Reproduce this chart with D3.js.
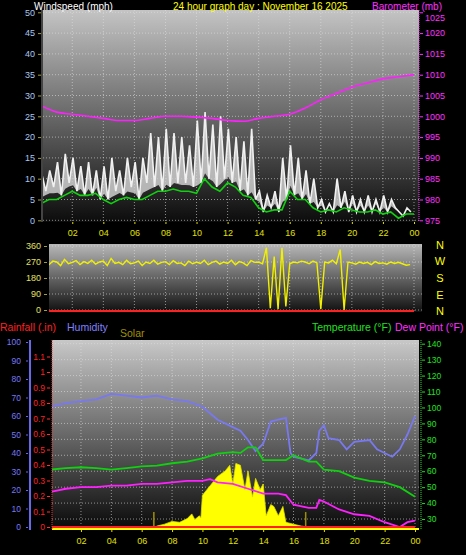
<!DOCTYPE html>
<html><head><meta charset="utf-8">
<script src="https://cdn.jsdelivr.net/npm/d3@7"></script>
<style>body{margin:0;background:#000}svg{display:block}text{font-family:"Liberation Sans",Arial,sans-serif}</style>
</head><body><svg id="c" width="466" height="555"></svg>
<script>
const hourTicks=[2,4,6,8,10,12,14,16,18,20,22,24];
const gust=[11,7,12,8,14,6,16,9,15,7,13,6,14,6,12,5,13,5,15,7,12,6,15,8,14,5,15,9,21,8,20,7,22,8,21,9,20,9,18,8,24,9,26,10,23,8,25,10,22,9,20,7,19,6,22,5,7,2,6,3,7,2,15,5,18,6,15,5,12,4,10,3,5,2,4,2,10,3,7,2,6,2,5,2,6,2,5,2,6,2,5,3,2,1,3,2];
const avgWind=[4,5,5,6,7,6,6,6.5,5,4,5,5.5,5,5,6,7,7,7.5,7,7,6.5,10,8,7,9,8,6,5.5,3,2,2.5,2.5,7,5,5,3,2,2.5,2,3,2.5,2,2,2.5,1.5,2,0.5,1.5,1.5];
const baro=[1002.5,1001,1000.5,1000,999.5,999,999,999.5,1000,1000,999.8,999.5,999,998.8,999.5,1000,1000.5,1002,1004,1005.5,1007,1008,1009,1009.5,1010];
const windDir=[265,280,255,275,270,250,285,260,268,278,255,272,262,280,258,270,275,250,290,262,268,255,280,260,265,275,250,270,262,280,258,268,272,255,278,262,265,250,275,260,270,262,280,255,268,275,258,270,262,280,255,272,265,250,278,268,270,260,350,10,300,5,350,20,260,270,265,275,270,260,275,265,5,270,265,280,260,340,0,270,265,258,270,262,268,255,272,262,265,258,270,262,268,260,252,255];
const humHours=[0,1,2,3,4,5,6,7,8,9,10,11,12,12.5,13,13.5,14,14.5,15,15.5,15.8,16,17,17.5,17.7,18,18.3,19,19.5,20,21,21.5,22,22.5,23,23.5,24];
const humidity=[65,67,68,69,72,71,70,71,69,68,65,58,54,52,47,41,45,57,58,59,40,38,36,40,52,55,48,47,42,46,47,42,40,38,42,50,60];
const tempHours=[0,1,2,3,4,5,6,7,8,9,10,11,12,12.5,13,13.5,14,15,15.5,16,17,17.5,18,19,20,21,22,23,24];
const temperature=[61,62,62.5,62,61,62,63,63.5,65,66,68,71,72,71.5,75,75,67,67,67,70,66,66,61,60,56,54,53,50,44];
const dewHours=[0,1,2,3,4,5,6,7,8,9,10,10.5,11,12,13,14,15,15.5,16,17,17.5,17.7,18,19,20,21,22,23,23.5,24];
const dewPoint=[47,49,50,50,51,51,52,52,53,54,54,55,53,52,49,46,46,45,39,37,37,42,41,36,33,32,28,25,28,29];
const solarHours=[6.9,7,7.5,8,8.5,9,9.3,9.5,9.8,9.9,10,10.5,11,11.5,11.8,12,12.2,12.5,12.8,13,13.3,13.5,13.8,14,14.2,14.5,14.7,15,15.3,15.5,16,16.5,17];
const solar=[0,5,15,30,25,45,70,40,60,50,170,220,270,300,330,230,340,330,200,300,160,260,200,230,60,120,110,60,110,25,15,5,0];
const rain=[0,0];

const svg=d3.select("#c");
const defs=svg.append("defs");
function grad(id,c1,c2){const g=defs.append("linearGradient").attr("id",id).attr("x1",0).attr("x2",0).attr("y1",0).attr("y2",1);
g.append("stop").attr("offset","0%").attr("stop-color",c1);g.append("stop").attr("offset","100%").attr("stop-color",c2);}
grad("g1","#c4c4c4","#0c0c0c");grad("g2","#b8b8b8","#101010");grad("g3","#c8c8c8","#080808");

function panel(x0,x1,y0,y1,gid,xs,ys,yt){
  svg.append("rect").attr("x",x0).attr("y",y0).attr("width",x1-x0).attr("height",y1-y0).attr("fill",`url(#${gid})`);
  const g=svg.append("g");
  hourTicks.forEach(h=>g.append("line").attr("x1",xs(h)).attr("x2",xs(h)).attr("y1",y0).attr("y2",y1));
  yt.forEach(v=>g.append("line").attr("x1",x0).attr("x2",x1).attr("y1",ys(v)).attr("y2",ys(v)));
  g.selectAll("line").attr("stroke","#e0e0e0").attr("stroke-opacity",0.6).attr("stroke-dasharray","1,2");
}
function txt(x,y,s,c,size,anchor){svg.append("text").attr("x",x).attr("y",y).attr("fill",c).attr("font-size",size||11).attr("text-anchor",anchor||"start").text(s);}
const fmtH=h=>String(h%24).padStart(2,"0");

// ---------- top panel
const xT=d3.scaleLinear().domain([0,24]).range([41.2,414]);
const yW=d3.scaleLinear().domain([0,50]).range([220.3,12.3]);
const yB=d3.scaleLinear().domain([975,1025]).range([220.3,12.3]);
panel(43,419,10,222,"g1",xT,yW,d3.range(0,51,5));
svg.append("defs").append("clipPath").attr("id","cT").append("rect").attr("x",43).attr("y",10).attr("width",376).attr("height",212);
const cT=svg.append("g").attr("clip-path","url(#cT)");
const avgAt=t=>{const i=Math.min(Math.floor(t*2),avgWind.length-2),f=t*2-i;return avgWind[i]*(1-f)+avgWind[i+1]*f;};
cT.append("path").datum(gust).attr("fill","#cfcfcf").attr("fill-opacity",0.85)
 .attr("d",d3.area().x((d,i)=>xT(i/4+0.05)).y0((d,i)=>yW(Math.min(d,avgAt(i/4+0.05)+1.5))).y1(d=>yW(d)));
cT.append("path").datum(gust).attr("fill","none").attr("stroke","#f0f0f0").attr("stroke-width",1.6)
 .attr("d",d3.line().x((d,i)=>xT(i/4+0.05)).y(d=>yW(d)));
cT.append("path").datum(avgWind).attr("fill","none").attr("stroke","#10d010").attr("stroke-width",1.6)
 .attr("d",d3.line().x((d,i)=>xT(i/2)).y(d=>yW(d)));
cT.append("path").datum(baro).attr("fill","none").attr("stroke","#ff20ff").attr("stroke-width",1.6)
 .attr("d",d3.line().curve(d3.curveMonotoneX).x((d,i)=>xT(i)).y(d=>yB(d)));
svg.append("line").attr("x1",42).attr("x2",42).attr("y1",10).attr("y2",222).attr("stroke","#888");
svg.append("line").attr("x1",419).attr("x2",419).attr("y1",10).attr("y2",222).attr("stroke","#ff40ff").attr("stroke-dasharray","1,1");
const al=svg.append("g").attr("transform","translate(41,0)").call(d3.axisLeft(yW).tickValues(d3.range(0,51,5)).tickSize(3).tickPadding(3));
al.selectAll("text").attr("fill","#a8c8f0").attr("font-size",9);al.selectAll("line").attr("stroke","#a0a040");al.select(".domain").remove();
const ar=svg.append("g").attr("transform","translate(420,0)").call(d3.axisRight(yB).tickValues(d3.range(975,1026,5)).tickFormat(d3.format("d")).tickSize(3).tickPadding(2));
ar.selectAll("text").attr("fill","#ff30ff").attr("font-size",9);ar.selectAll("line").attr("stroke","#ff30ff");ar.select(".domain").remove();
ar.selectAll(".tick text").filter(d=>d===1025).attr("dy","0.9em");
const ax=svg.append("g").attr("transform","translate(0,222)").call(d3.axisBottom(xT).tickValues(hourTicks).tickFormat(fmtH).tickSize(2).tickPadding(6));
ax.selectAll("text").attr("fill","#e0e000").attr("font-size",9);ax.selectAll("line").attr("stroke","#e0e000");ax.select(".domain").remove();
txt(34,9.5,"Windspeed (mph)","#fff",10);
txt(173,9.5,"24 hour graph day : November 16 2025","#ffff00",10);
txt(372,9.5,"Barometer (mb)","#ff30ff",10);

// ---------- middle panel
const yD=d3.scaleLinear().domain([0,360]).range([310,246]);
panel(49,422,244,312,"g2",xT,yD,[0,90,180,270,360]);
svg.append("defs").append("clipPath").attr("id","cM").append("rect").attr("x",49).attr("y",244).attr("width",373).attr("height",68);
const cM=svg.append("g").attr("clip-path","url(#cM)");
cM.append("path").datum(windDir).attr("fill","none").attr("stroke","#f0f000").attr("stroke-width",1.4)
 .attr("d",d3.line().x((d,i)=>xT(i/4)).y(d=>yD(d)));
cM.append("path").datum(rain).attr("fill","none").attr("stroke","#ff2020").attr("stroke-width",2)
 .attr("d",d3.line().x((d,i)=>xT(i*24)).y(d=>yD(d)+1));
const am=svg.append("g").attr("transform","translate(47,0)").call(d3.axisLeft(yD).tickValues([0,90,180,270,360]).tickSize(3).tickPadding(3));
am.selectAll("text").attr("fill","#e0e060").attr("font-size",9);am.selectAll("line").attr("stroke","#a0a040");am.select(".domain").remove();
["N","W","S","E","N"].forEach((s,i)=>txt(440,[249,265,282,299,315][i],s,"#ffff00",11,"middle"));
txt(0,331,"Rainfall (.in)","#ff2020",10.5);
txt(67,331,"Humidity","#8080ff",10.5);
txt(120,337,"Solar","#a09000",10.5);
txt(312,331,"Temperature (°F)","#20e020",10.5);
txt(395,331,"Dew Point (°F)","#ff30ff",10.5);

// ---------- bottom panel
const xB=d3.scaleLinear().domain([0,24]).range([50.6,415]);
const yH=d3.scaleLinear().domain([0,100]).range([527,342]);
const yR=d3.scaleLinear().domain([0,1.2]).range([527,341]);
const yTp=d3.scaleLinear().domain([25,140]).range([527,343.7]);
const yS=d3.scaleLinear().domain([0,1000]).range([527,340]);
panel(52,419,340,530,"g3",xB,yTp,d3.range(30,141,10));
svg.append("defs").append("clipPath").attr("id","cB").append("rect").attr("x",52).attr("y",340).attr("width",367).attr("height",190);
const cB=svg.append("g").attr("clip-path","url(#cB)");
cB.append("path").datum(solar).attr("fill","#ffff00").attr("stroke","#e0e000").attr("stroke-width",0.8)
 .attr("d",d3.area().x((d,i)=>xB(solarHours[i])).y0(527).y1(d=>yS(d)));
[6.8,16.8].forEach(h=>cB.append("line").attr("x1",xB(h)).attr("x2",xB(h)).attr("y1",yS(0)).attr("y2",yS(80)).attr("stroke","#a09000").attr("stroke-width",1.5));
cB.append("path").datum(humidity).attr("fill","none").attr("stroke","#7878f0").attr("stroke-width",1.8)
 .attr("d",d3.line().x((d,i)=>xB(humHours[i])).y(d=>yH(d)));
cB.append("path").datum(temperature).attr("fill","none").attr("stroke","#10d010").attr("stroke-width",1.8)
 .attr("d",d3.line().x((d,i)=>xB(tempHours[i])).y(d=>yTp(d)));
cB.append("path").datum(dewPoint).attr("fill","none").attr("stroke","#ff20ff").attr("stroke-width",1.8)
 .attr("d",d3.line().x((d,i)=>xB(dewHours[i])).y(d=>yTp(d)));
cB.append("path").datum(rain).attr("fill","none").attr("stroke","#ff2020").attr("stroke-width",2)
 .attr("d",d3.line().x((d,i)=>xB(i*24)).y(d=>yR(d)));
cB.append("line").attr("x1",52).attr("x2",419).attr("y1",529).attr("y2",529).attr("stroke","#ffff00").attr("stroke-width",2);
svg.append("line").attr("x1",30).attr("x2",30).attr("y1",340).attr("y2",530).attr("stroke","#6868e8").attr("stroke-width",2);
svg.append("line").attr("x1",52).attr("x2",52).attr("y1",340).attr("y2",530).attr("stroke","#ff3030").attr("stroke-dasharray","1,1");
svg.append("line").attr("x1",421).attr("x2",421).attr("y1",340).attr("y2",530).attr("stroke","#20e020").attr("stroke-dasharray","1,1");
const ah=svg.append("g").attr("transform","translate(28,0)").call(d3.axisLeft(yH).tickValues(d3.range(0,101,10)).tickSize(2).tickPadding(5));
ah.selectAll("text").attr("fill","#7878f0").attr("font-size",8.5);ah.selectAll("line").attr("stroke","#6868e8");ah.select(".domain").remove();
const arr=svg.append("g").attr("transform","translate(50,0)").call(d3.axisLeft(yR).tickValues(d3.range(0,12).map(i=>i/10)).tickFormat(d=>d3.format("~g")(+d.toFixed(1))).tickSize(3).tickPadding(2));
arr.selectAll("text").attr("fill","#ff2020").attr("font-size",8.5);arr.selectAll("line").attr("stroke","#ff3030");arr.select(".domain").remove();
const at=svg.append("g").attr("transform","translate(422,0)").call(d3.axisRight(yTp).tickValues(d3.range(30,141,10)).tickSize(3).tickPadding(2));
at.selectAll("text").attr("fill","#20e020").attr("font-size",8.5);at.selectAll("line").attr("stroke","#20e020");at.select(".domain").remove();
const ab=svg.append("g").attr("transform","translate(0,530)").call(d3.axisBottom(xB).tickValues(hourTicks).tickFormat(fmtH).tickSize(2).tickPadding(6));
ab.selectAll("text").attr("fill","#e0e000").attr("font-size",9);ab.selectAll("line").attr("stroke","#e0e000");ab.select(".domain").remove();
</script></body></html>
